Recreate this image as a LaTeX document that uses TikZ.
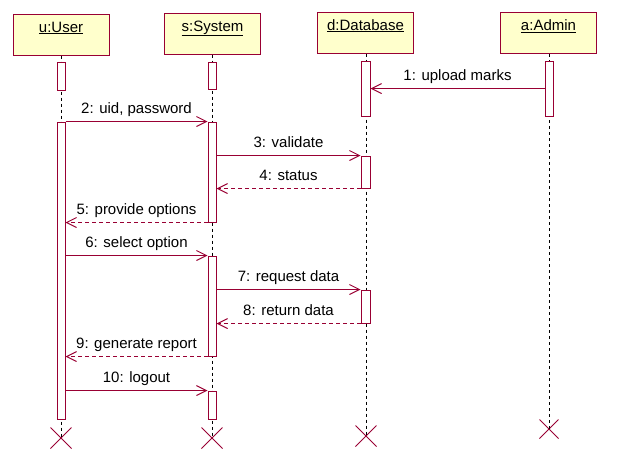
\documentclass[tikz,border=0pt]{standalone}
\usepackage{fontspec}
\setmainfont{Liberation Sans}
\usetikzlibrary{arrows.meta,shapes.misc}
\definecolor{umlred}{RGB}{153,0,51}
\definecolor{umlyellow}{RGB}{255,255,204}

\begin{document}
\begin{tikzpicture}[x=1pt,y=-1pt,line width=1pt,
    font=\fontsize{15}{18}\selectfont,
    obj/.style={draw=umlred,fill=umlyellow,minimum width=96pt,inner sep=0pt,
        text height=18pt,text depth=23pt},
    act/.style={draw=umlred,fill=white,minimum width=8pt,inner sep=0pt},
    life/.style={draw=black,dash pattern=on 3pt off 3pt},
    kill/.style={cross out,draw=umlred,minimum size=20pt,inner sep=0pt},
    msg/.style={draw=umlred,-{Straight Barb[length=10pt,width=10pt]}},
    ret/.style={msg,dash pattern=on 4pt off 3pt},
    lbl/.style={midway,above=8pt,inner sep=0pt,text depth=0pt}]

    \useasboundingbox (0,0) rectangle (618,464);

    % the objects
    \node[obj] (u) at (61,34.5) {\underline{u:User}};
    \node[obj] (s) at (212.5,33.5) {\underline{s:System}};
    \node[obj] (d) at (365.5,32.5) {\underline{d:Database}};
    \node[obj] (a) at (548.5,33) {\underline{a:Admin}};

    % the ends
    \node[kill] (uX) at (61,438) {};
    \node[kill] (sX) at (212,438) {};
    \node[kill] (dX) at (366,436) {};
    \node[kill,minimum size=18pt] (aX) at (549,429) {};

    % the lifelines
    \draw[life] (u.south) -- (uX.center);
    \draw[life] (s.south -| sX) -- (sX.center);
    \draw[life] (d.south -| dX) -- (dX.center);
    \draw[life] (a.south -| aX) -- (aX.center);

    % the activations
    \node[act,minimum height=28pt] (uAct0) at (61,76) {};
    \node[act,minimum height=27pt] (sAct0) at (212,75.5) {};
    \node[act,minimum height=55pt,minimum width=9pt] (dAct1) at (365.5,88.5) {};
    \node[act,minimum height=55pt] (aAct1) at (549,88.5) {};
    \node[act,minimum height=297pt] (uAct1) at (61,270.5) {};
    \node[act,minimum height=100pt] (sAct2) at (212,172) {};
    \node[act,minimum height=32pt,minimum width=9pt] (dAct2) at (365.5,172) {};
    \node[act,minimum height=100pt] (sAct3) at (212,306) {};
    \node[act,minimum height=33pt,minimum width=9pt] (dAct3) at (365.5,306.5) {};
    \node[act,minimum height=28pt] (sAct4) at (212,405) {};

    % the messages
    \draw[msg] (aAct1.west) -- (aAct1.west -| dAct1.east) node[lbl] {1: upload marks};
    \draw[msg] (uAct1.north east) -- (sAct2.north west) node[lbl] {2: uid, password};
    \draw[msg] (sAct2.east |- dAct2.north) -- (dAct2.north west) node[lbl] {3: validate};
    \draw[ret] (dAct2.south west) -- (dAct2.south west -| sAct2.east) node[lbl] {4: status};
    \draw[ret] (sAct2.south west) -- (sAct2.south west -| uAct1.east) node[lbl] {5: provide options};
    \draw[msg] (uAct1.east |- sAct3.north) -- (sAct3.north west) node[lbl] {6: select option};
    \draw[msg] (sAct3.east |- dAct3.north) -- (dAct3.north west) node[lbl] {7: request data};
    \draw[ret] (dAct3.south west) -- (dAct3.south west -| sAct3.east) node[lbl] {8: return data};
    \draw[ret] (sAct3.south west) -- (sAct3.south west -| uAct1.east) node[lbl] {9: generate report};
    \draw[msg] (uAct1.east |- sAct4.north) -- (sAct4.north west) node[lbl] {10: logout};

\end{tikzpicture}
\end{document}
